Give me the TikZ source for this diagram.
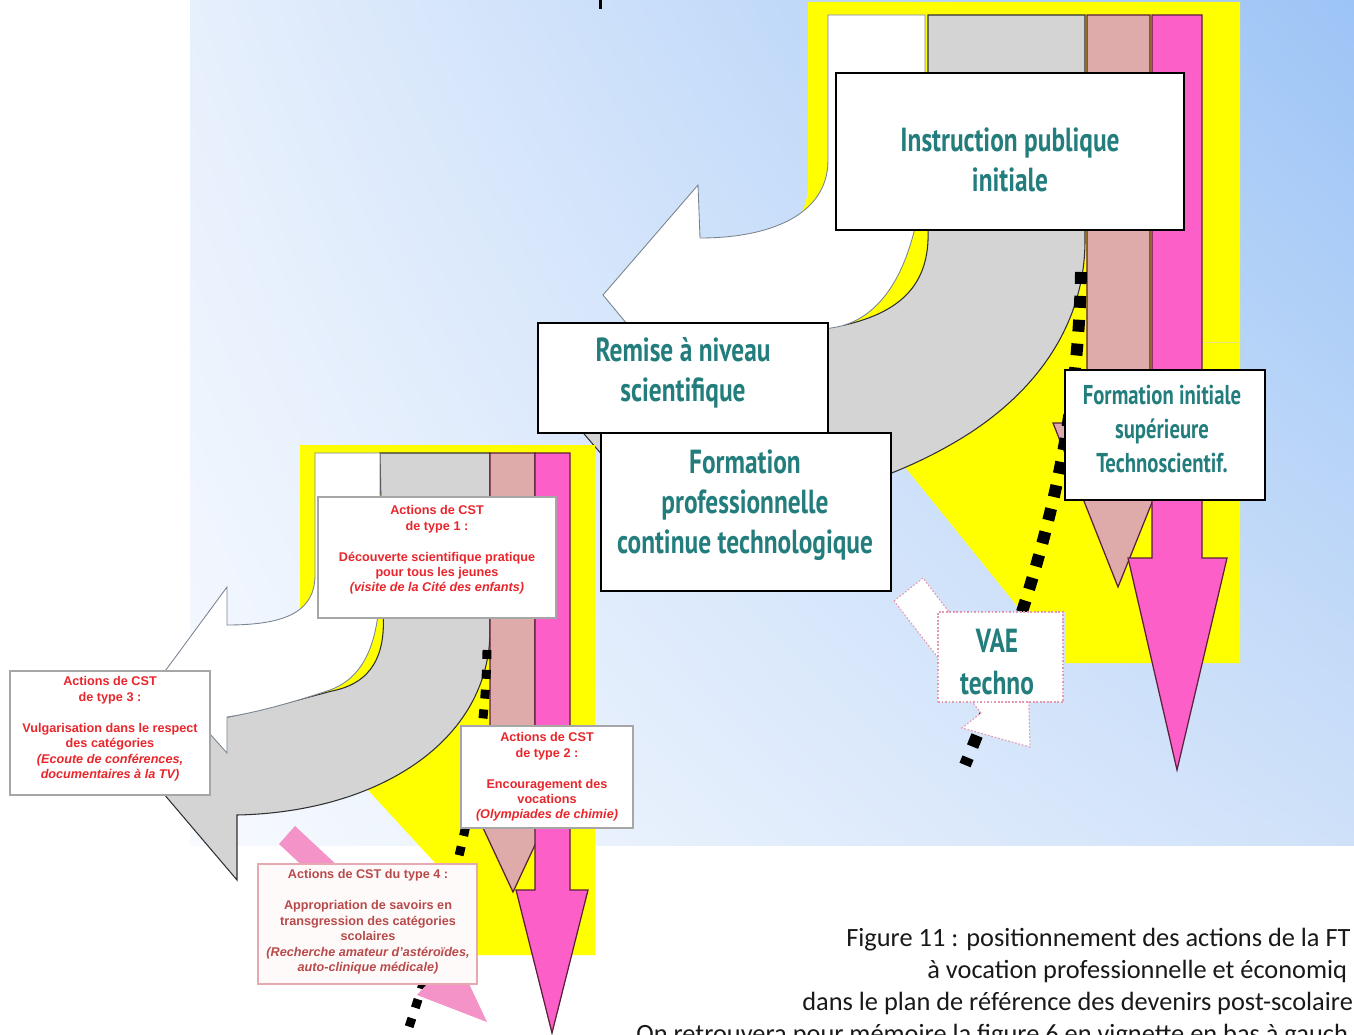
\documentclass[tikz,border=0pt]{standalone}
\usepackage{fontspec}
\setmainfont{Liberation Sans}
\newfontfamily\condfont[FakeStretch=0.76]{PT Sans}
\newfontfamily\capfont{Carlito}
\usetikzlibrary{fit,shadows,shadings}
\definecolor{bgUL}{HTML}{E6EFFC}
\definecolor{bgUR}{HTML}{9CC4F6}
\definecolor{bgLL}{HTML}{F7FAFF}
\definecolor{bgLR}{HTML}{CFE1F9}
\definecolor{yel}{HTML}{FFFF00}
\definecolor{greyband}{HTML}{D4D4D4}
\definecolor{rosy}{HTML}{DFAAAA}
\definecolor{mag}{HTML}{FC5FC8}
\definecolor{pinkarrow}{HTML}{F393C8}
\definecolor{tealtxt}{HTML}{237D7D}
\definecolor{redtxt}{HTML}{E8262C}
\definecolor{tfourtxt}{HTML}{B84A4A}
\definecolor{tfourborder}{HTML}{E6A9B2}
\definecolor{dottedpink}{HTML}{E29AAE}
\definecolor{arrowline}{HTML}{5A1F3A}
\definecolor{whiteline}{HTML}{7A8590}
\definecolor{greyline}{HTML}{303030}
\tikzset{
 whitearrow/.style={fill=white, draw=whiteline, line width=0.5pt},
 greyarrow/.style={fill=greyband, draw=greyline, line width=0.6pt},
 rosyarrow/.style={fill=rosy, draw=arrowline, line width=0.7pt},
 magarrow/.style={fill=mag, draw=arrowline, line width=0.7pt},
 bigbox/.style={draw=black, line width=1.4pt, fill=white, inner sep=0pt},
 bigtxt/.style={font=\condfont\bfseries\fontsize{19}{22.7}\selectfont, text=tealtxt, align=center, inner sep=0pt},
 smallbox/.style={draw=gray!70, line width=0.6pt, fill=white, inner sep=0pt, drop shadow={opacity=0.25, shadow xshift=0.8pt, shadow yshift=-0.8pt}},
 smalltxt/.style={font=\bfseries\fontsize{7.2}{8.8}\selectfont, text=redtxt, align=center, inner sep=0pt},
 bigdash/.style={line width=6.8pt, dash pattern=on 6.8pt off 6.8pt, draw=black},
 smalldash/.style={line width=5.1pt, dash pattern=on 5.1pt off 6.2pt, draw=black},
 captxt/.style={font=\capfont\fontsize{15}{18.1}\selectfont, text=black!90, anchor=base west, inner sep=0pt},
}
\begin{document}
\begin{tikzpicture}[x=0.02cm, y=-0.02cm]
\useasboundingbox (0,0) rectangle (1354,1034);
\clip (0,0) rectangle (1354,1034);
\fill[white] (0,0) rectangle (1354,1034);
\shade[upper left=bgUL, upper right=bgUR, lower left=bgLL, lower right=bgLR] (190,0) rectangle (1354,845);
\fill[black] (599,0) rectangle (602,9);

% ---------- big diagram ----------
\fill[yel] (808,2) -- (1240,2) -- (1240,663) -- (1065,663) -- (1065,612) -- (1022,612) -- (905,467) -- (855,355) -- (790,226) .. controls (800,218) and (808,205) .. (808,185) -- cycle;
\draw[yel!80!black!50, line width=0.4pt] (1202,342) -- (1240,342);

\filldraw[greyarrow] (928,15) -- (1085,15) -- (1085,240) .. controls (1085,330) and (1030,400) .. (950,445) .. controls (880,485) and (800,505) .. (720,510) -- (705,575) -- (555,400) -- (660,320) -- (690,338) .. controls (750,332) and (800,328) .. (845,325) .. controls (900,312) and (930,285) .. (928,230) -- cycle;
\filldraw[whitearrow] (828,15) -- (925,15) -- (925,130) .. controls (925,240) and (895,315) .. (837,327) .. controls (790,335) and (740,338) .. (705,340) -- (690,400) -- (603,295) -- (698,185) -- (700,238) .. controls (770,238) and (828,215) .. (828,160) -- cycle;
\filldraw[rosyarrow] (1087,15) -- (1150,15) -- (1150,423) -- (1184,423) -- (1118,587) -- (1053,423) -- (1087,423) -- cycle;
\filldraw[magarrow] (1152,15) -- (1202,15) -- (1202,558) -- (1227,558) -- (1177,770) -- (1128,558) -- (1152,558) -- cycle;

\coordinate (bd1) at (1081,272);
\coordinate (bd2) at (965,765);
\draw[bigdash] (bd1) .. controls (1078,420) and (1050,560) .. (bd2);

\filldraw[fill=white, draw=dottedpink, line width=0.6pt, dash pattern=on 1pt off 1pt] (894,601) -- (923,578) -- (1009,691) -- (1028,676) -- (1030,747) -- (962,728) -- (981,713) -- cycle;

\node[bigbox, fit={(836,73) (1184,230)}] (instr) {};
\node[bigbox, fit={(538,323) (828,433)}] (remise) {};
\node[bigbox, fit={(601,433) (891,591)}] (formpro) {};
\node[bigbox, fit={(1065,370) (1265,500)}] (forminit) {};
\node[fill=white, draw=dottedpink, line width=0.6pt, dash pattern=on 1pt off 1pt, inner sep=0pt, fit={(938,612) (1063,702)}] (vae) {};

\node[bigtxt] (instrtxt) at (1010,160) {Instruction publique\\initiale};
\node[bigtxt] (remisetxt) at (683,373) {Remise à niveau\\scientifique};
\node[bigtxt] (formprotxt) at (745,505) {Formation\\professionnelle\\continue technologique};
\node[bigtxt, font=\condfont\bfseries\fontsize{15.5}{19.3}\selectfont] (forminittxt) at (1162,429) {Formation initiale\\supérieure\\Technoscientif.};
\node[bigtxt, font=\condfont\bfseries\fontsize{19}{24.4}\selectfont] (vaetxt) at (997,662) {VAE\\techno};

% ---------- small diagram ----------
\fill[yel] (300,445) -- (595,445) -- (595,955) -- (437,955) -- (437,865) -- (368,790) -- (300,640) -- cycle;

\filldraw[greyarrow] (380,453) -- (490,453) -- (490,630) .. controls (490,740) and (380,812) .. (237,815) -- (237,880) -- (135,760) -- (225,690) -- (228,717) .. controls (270,708) and (305,698) .. (332,691) .. controls (372,683) and (386,655) .. (383,612) -- (380,453) -- cycle;
\filldraw[whitearrow] (315,453) -- (380,453) -- (380,590) .. controls (378,642) and (365,677) .. (330,690) .. controls (300,700) and (260,712) .. (227,717) -- (227,753) -- (160,678) -- (227,587) -- (227,625) .. controls (285,625) and (315,612) .. (315,575) -- cycle;
\filldraw[rosyarrow] (490,453) -- (535,453) -- (535,800) -- (556,800) -- (513,892) -- (470,800) -- (490,800) -- cycle;
\filldraw[magarrow] (535,453) -- (570,453) -- (570,890) -- (588,890) -- (552,1033) -- (516,890) -- (535,890) -- cycle;

\coordinate (sd1) at (487,650);
\coordinate (sd2) at (403,1045);
\draw[smalldash] (sd1) .. controls (485,760) and (462,870) .. (sd2);

\fill[pinkarrow] (279,844) -- (295,826) -- (444,965) -- (455,954) -- (487,1022) -- (417,995) -- (428,983) -- cycle;

\node[smallbox, fit={(318,497) (556,618)}] (type1) {};
\node[smallbox, fit={(10,671) (210,795)}] (type3) {};
\node[smallbox, fit={(461,726) (633,828)}] (type2) {};
\node[smallbox, draw=tfourborder, fill=red!2, fit={(258,864) (477,984)}] (type4) {};

\node[smalltxt] (type1txt) at (437,550) {Actions de CST\\de type 1 :\\[8.8pt]Découverte scientifique pratique\\pour tous les jeunes\\\textit{(visite de la Cité des enfants)}};
\node[smalltxt] (type3txt) at (110,729) {Actions de CST\\de type 3 :\\[8.8pt]Vulgarisation dans le respect\\des catégories\\\textit{(Ecoute de conférences,}\\\textit{documentaires à la TV)}};
\node[smalltxt] (type2txt) at (547,777) {Actions de CST\\de type 2 :\\[8.8pt]Encouragement des\\vocations\\\textit{(Olympiades de chimie)}};
\node[smalltxt, text=tfourtxt] (type4txt) at (368,922) {Actions de CST du type 4 :\\[8.8pt]Appropriation de savoirs en\\transgression des catégories\\scolaires\\\textit{(Recherche amateur d'astéroïdes,}\\\textit{auto-clinique médicale)}};

% ---------- caption ----------
\node[captxt] (cap1) at (846,946) {Figure 11 : positionnement des actions de la FT};
\node[captxt] (cap2) at (927,978) {à vocation professionnelle et économiq};
\node[captxt] (cap3) at (802,1010) {dans le plan de référence des devenirs post-scolaire};
\node[captxt] (cap4) at (636,1042) {On retrouvera pour mémoire la figure 6 en vignette en bas à gauch};
\end{tikzpicture}
\end{document}
